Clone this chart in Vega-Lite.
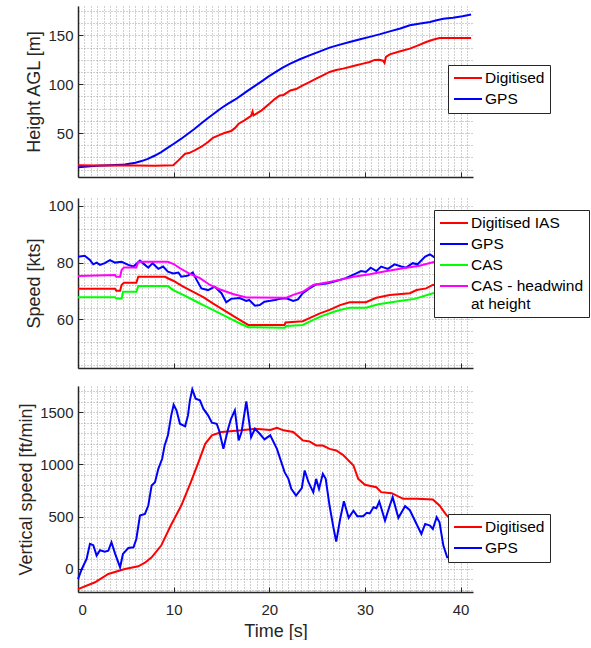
{
  "$schema": "https://vega.github.io/schema/vega-lite/v6.json",
  "background": "white",
  "padding": {"left": 17, "top": 6, "right": 0, "bottom": 0},
  "config": {
    "font": "Liberation Sans",
    "view": {"stroke": null},
    "axis": {
      "domainColor": "#262626", "domainWidth": 1.5,
      "labelColor": "#262626", "labelFontSize": 15, "labelFont": "Liberation Sans", "format": "d",
      "titleColor": "#262626", "titleFontSize": 18, "titleFontWeight": "normal", "titleFont": "Liberation Sans",
      "gridColor": "#a0a0a0", "gridDash": [1, 2], "gridWidth": 1,
      "tickColor": "#262626", "tickSize": -5, "tickWidth": 1, "labelPadding": 10
    },
    "legend": {
      "labelFont": "Liberation Sans", "labelFontSize": 15.5, "labelColor": "#000000", "labelBaseline": "middle",
      "strokeColor": "#262626", "fillColor": "white", "padding": 5,
      "symbolType": "M-1,0H3", "symbolSize": 196, "symbolStrokeWidth": 2,
      "labelOffset": 16, "rowPadding": 4, "orient": "none", "title": null
    },
    "line": {"strokeWidth": 2, "clip": true}
  },
  "datasets": {
    "h": [
      {"t": 0, "v": 15, "s": "GPS"}, {"t": 2, "v": 16.5, "s": "GPS"}, {"t": 4, "v": 17.3, "s": "GPS"}, {"t": 4.9, "v": 17.8, "s": "GPS"}, {"t": 6, "v": 19.5, "s": "GPS"}, {"t": 6.65, "v": 21.3, "s": "GPS"}, {"t": 7.3, "v": 23.5, "s": "GPS"}, {"t": 8.05, "v": 27, "s": "GPS"}, {"t": 8.7, "v": 30.5, "s": "GPS"}, {"t": 9.4, "v": 35, "s": "GPS"}, {"t": 10.1, "v": 39.5, "s": "GPS"}, {"t": 10.8, "v": 44.2, "s": "GPS"}, {"t": 11.5, "v": 49.3, "s": "GPS"}, {"t": 12.2, "v": 54.4, "s": "GPS"}, {"t": 12.9, "v": 60, "s": "GPS"}, {"t": 13.6, "v": 65.4, "s": "GPS"}, {"t": 14.3, "v": 70.5, "s": "GPS"}, {"t": 15.0, "v": 75.6, "s": "GPS"}, {"t": 15.7, "v": 80, "s": "GPS"}, {"t": 16.4, "v": 84.1, "s": "GPS"}, {"t": 17.1, "v": 88.8, "s": "GPS"}, {"t": 17.8, "v": 93.6, "s": "GPS"}, {"t": 18.5, "v": 98.3, "s": "GPS"}, {"t": 19.2, "v": 102.9, "s": "GPS"}, {"t": 19.9, "v": 107.7, "s": "GPS"}, {"t": 20.6, "v": 112, "s": "GPS"}, {"t": 21.4, "v": 117, "s": "GPS"}, {"t": 22.2, "v": 121, "s": "GPS"}, {"t": 23.2, "v": 125.5, "s": "GPS"}, {"t": 24.2, "v": 129.5, "s": "GPS"}, {"t": 25.3, "v": 133.5, "s": "GPS"}, {"t": 26.3, "v": 137.4, "s": "GPS"}, {"t": 27.3, "v": 140.2, "s": "GPS"}, {"t": 28.4, "v": 143.2, "s": "GPS"}, {"t": 29.5, "v": 146, "s": "GPS"}, {"t": 30.5, "v": 148.4, "s": "GPS"}, {"t": 31.6, "v": 151.2, "s": "GPS"}, {"t": 32.6, "v": 154, "s": "GPS"}, {"t": 33.7, "v": 157, "s": "GPS"}, {"t": 34.7, "v": 160.2, "s": "GPS"}, {"t": 35.8, "v": 162, "s": "GPS"}, {"t": 36.8, "v": 163.7, "s": "GPS"}, {"t": 37.5, "v": 165.5, "s": "GPS"}, {"t": 38.2, "v": 167, "s": "GPS"}, {"t": 39.2, "v": 168, "s": "GPS"}, {"t": 40.2, "v": 169.5, "s": "GPS"}, {"t": 41.1, "v": 171.2, "s": "GPS"},
      {"t": 0, "v": 17, "s": "Digitised"}, {"t": 2, "v": 16.8, "s": "Digitised"}, {"t": 4, "v": 16.7, "s": "Digitised"}, {"t": 6, "v": 16.7, "s": "Digitised"}, {"t": 8, "v": 16.6, "s": "Digitised"}, {"t": 9.96, "v": 17, "s": "Digitised"}, {"t": 10.5, "v": 22, "s": "Digitised"}, {"t": 11.2, "v": 28.8, "s": "Digitised"}, {"t": 11.6, "v": 29.5, "s": "Digitised"}, {"t": 12.2, "v": 32.2, "s": "Digitised"}, {"t": 12.9, "v": 36, "s": "Digitised"}, {"t": 13.6, "v": 40.8, "s": "Digitised"}, {"t": 14.1, "v": 45, "s": "Digitised"}, {"t": 14.7, "v": 47.6, "s": "Digitised"}, {"t": 15.3, "v": 50, "s": "Digitised"}, {"t": 16.0, "v": 52, "s": "Digitised"}, {"t": 16.4, "v": 55, "s": "Digitised"}, {"t": 16.8, "v": 59.5, "s": "Digitised"}, {"t": 17.4, "v": 63, "s": "Digitised"}, {"t": 18.1, "v": 67.5, "s": "Digitised"}, {"t": 18.25, "v": 72, "s": "Digitised"}, {"t": 18.35, "v": 68, "s": "Digitised"}, {"t": 19.2, "v": 73.2, "s": "Digitised"}, {"t": 20.1, "v": 80.7, "s": "Digitised"}, {"t": 20.6, "v": 85, "s": "Digitised"}, {"t": 21.1, "v": 88.5, "s": "Digitised"}, {"t": 21.5, "v": 89, "s": "Digitised"}, {"t": 22.2, "v": 93.6, "s": "Digitised"}, {"t": 22.8, "v": 95, "s": "Digitised"}, {"t": 23.5, "v": 98.8, "s": "Digitised"}, {"t": 24.2, "v": 102, "s": "Digitised"}, {"t": 24.9, "v": 105.6, "s": "Digitised"}, {"t": 25.6, "v": 109, "s": "Digitised"}, {"t": 26.3, "v": 112.5, "s": "Digitised"}, {"t": 27.0, "v": 114.5, "s": "Digitised"}, {"t": 27.7, "v": 115.9, "s": "Digitised"}, {"t": 28.4, "v": 117.5, "s": "Digitised"}, {"t": 29.1, "v": 119.3, "s": "Digitised"}, {"t": 29.8, "v": 121, "s": "Digitised"}, {"t": 30.5, "v": 122.7, "s": "Digitised"}, {"t": 31.0, "v": 124.8, "s": "Digitised"}, {"t": 31.5, "v": 125, "s": "Digitised"}, {"t": 31.9, "v": 124, "s": "Digitised"}, {"t": 32.05, "v": 121.7, "s": "Digitised"}, {"t": 32.2, "v": 128, "s": "Digitised"}, {"t": 32.6, "v": 130.5, "s": "Digitised"}, {"t": 33.6, "v": 133.5, "s": "Digitised"}, {"t": 34.7, "v": 136.4, "s": "Digitised"}, {"t": 35.5, "v": 139.5, "s": "Digitised"}, {"t": 36.4, "v": 143.2, "s": "Digitised"}, {"t": 37.1, "v": 145.5, "s": "Digitised"}, {"t": 37.8, "v": 147.3, "s": "Digitised"}, {"t": 39, "v": 147.3, "s": "Digitised"}, {"t": 41.1, "v": 147.3, "s": "Digitised"}
    ],
    "sp": [
      {"t": 0, "v": 70.8, "s": "Digitised IAS"}, {"t": 3.87, "v": 70.8, "s": "Digitised IAS"}, {"t": 4.0, "v": 70.1, "s": "Digitised IAS"}, {"t": 4.4, "v": 70.1, "s": "Digitised IAS"}, {"t": 4.56, "v": 72.1, "s": "Digitised IAS"}, {"t": 4.8, "v": 72.9, "s": "Digitised IAS"}, {"t": 6.1, "v": 72.9, "s": "Digitised IAS"}, {"t": 6.3, "v": 75.0, "s": "Digitised IAS"}, {"t": 9.1, "v": 75.0, "s": "Digitised IAS"}, {"t": 9.5, "v": 74.3, "s": "Digitised IAS"}, {"t": 9.96, "v": 73.6, "s": "Digitised IAS"}, {"t": 11.0, "v": 71.5, "s": "Digitised IAS"}, {"t": 12.05, "v": 69.7, "s": "Digitised IAS"}, {"t": 13.1, "v": 67.8, "s": "Digitised IAS"}, {"t": 14.1, "v": 65.6, "s": "Digitised IAS"}, {"t": 15.5, "v": 62.7, "s": "Digitised IAS"}, {"t": 16.9, "v": 59.8, "s": "Digitised IAS"}, {"t": 17.8, "v": 58.0, "s": "Digitised IAS"}, {"t": 21.6, "v": 58.0, "s": "Digitised IAS"}, {"t": 21.7, "v": 58.9, "s": "Digitised IAS"}, {"t": 23.5, "v": 59.3, "s": "Digitised IAS"}, {"t": 24.2, "v": 60.4, "s": "Digitised IAS"}, {"t": 25.3, "v": 62.1, "s": "Digitised IAS"}, {"t": 26.3, "v": 63.3, "s": "Digitised IAS"}, {"t": 27.4, "v": 65.0, "s": "Digitised IAS"}, {"t": 28.4, "v": 66.0, "s": "Digitised IAS"}, {"t": 30.1, "v": 66.0, "s": "Digitised IAS"}, {"t": 31.2, "v": 67.6, "s": "Digitised IAS"}, {"t": 32.6, "v": 68.6, "s": "Digitised IAS"}, {"t": 34.7, "v": 69.2, "s": "Digitised IAS"}, {"t": 35.4, "v": 70.3, "s": "Digitised IAS"}, {"t": 36.4, "v": 70.9, "s": "Digitised IAS"}, {"t": 37.1, "v": 72.1, "s": "Digitised IAS"}, {"t": 38, "v": 72.5, "s": "Digitised IAS"}, {"t": 41.2, "v": 73.5, "s": "Digitised IAS"},
      {"t": 0, "v": 82.1, "s": "GPS"}, {"t": 0.7, "v": 82.4, "s": "GPS"}, {"t": 1.25, "v": 80.9, "s": "GPS"}, {"t": 1.6, "v": 79.4, "s": "GPS"}, {"t": 1.95, "v": 80.0, "s": "GPS"}, {"t": 2.3, "v": 79.2, "s": "GPS"}, {"t": 2.8, "v": 79.8, "s": "GPS"}, {"t": 3.34, "v": 80.9, "s": "GPS"}, {"t": 3.87, "v": 80.0, "s": "GPS"}, {"t": 4.56, "v": 80.3, "s": "GPS"}, {"t": 5.26, "v": 79.2, "s": "GPS"}, {"t": 5.8, "v": 78.6, "s": "GPS"}, {"t": 6.48, "v": 80.7, "s": "GPS"}, {"t": 7.0, "v": 79.2, "s": "GPS"}, {"t": 7.35, "v": 78.2, "s": "GPS"}, {"t": 7.8, "v": 79.8, "s": "GPS"}, {"t": 8.4, "v": 77.8, "s": "GPS"}, {"t": 8.9, "v": 78.6, "s": "GPS"}, {"t": 9.4, "v": 76.8, "s": "GPS"}, {"t": 9.96, "v": 76.2, "s": "GPS"}, {"t": 10.5, "v": 76.5, "s": "GPS"}, {"t": 10.8, "v": 75.0, "s": "GPS"}, {"t": 11.5, "v": 75.4, "s": "GPS"}, {"t": 12.0, "v": 76.5, "s": "GPS"}, {"t": 12.4, "v": 73.9, "s": "GPS"}, {"t": 12.9, "v": 70.9, "s": "GPS"}, {"t": 13.6, "v": 70.3, "s": "GPS"}, {"t": 14.3, "v": 71.5, "s": "GPS"}, {"t": 15.0, "v": 69.2, "s": "GPS"}, {"t": 15.5, "v": 66.0, "s": "GPS"}, {"t": 16.0, "v": 67.2, "s": "GPS"}, {"t": 16.9, "v": 67.5, "s": "GPS"}, {"t": 17.6, "v": 66.5, "s": "GPS"}, {"t": 17.9, "v": 66.8, "s": "GPS"}, {"t": 18.5, "v": 64.8, "s": "GPS"}, {"t": 19.0, "v": 65.0, "s": "GPS"}, {"t": 19.5, "v": 66.2, "s": "GPS"}, {"t": 20.1, "v": 66.5, "s": "GPS"}, {"t": 20.6, "v": 66.8, "s": "GPS"}, {"t": 21.1, "v": 67.2, "s": "GPS"}, {"t": 21.8, "v": 67.4, "s": "GPS"}, {"t": 22.5, "v": 66.5, "s": "GPS"}, {"t": 23.0, "v": 67.0, "s": "GPS"}, {"t": 23.5, "v": 69.2, "s": "GPS"}, {"t": 24.2, "v": 70.9, "s": "GPS"}, {"t": 24.9, "v": 72.3, "s": "GPS"}, {"t": 26.0, "v": 72.6, "s": "GPS"}, {"t": 27.0, "v": 73.5, "s": "GPS"}, {"t": 28.0, "v": 74.5, "s": "GPS"}, {"t": 29.1, "v": 76.2, "s": "GPS"}, {"t": 29.6, "v": 77.0, "s": "GPS"}, {"t": 30.1, "v": 76.7, "s": "GPS"}, {"t": 30.6, "v": 78.2, "s": "GPS"}, {"t": 31.2, "v": 77.0, "s": "GPS"}, {"t": 31.7, "v": 78.6, "s": "GPS"}, {"t": 32.4, "v": 77.8, "s": "GPS"}, {"t": 33.1, "v": 79.4, "s": "GPS"}, {"t": 33.8, "v": 78.6, "s": "GPS"}, {"t": 34.3, "v": 78.2, "s": "GPS"}, {"t": 35.0, "v": 79.8, "s": "GPS"}, {"t": 35.5, "v": 79.4, "s": "GPS"}, {"t": 36.3, "v": 82.1, "s": "GPS"}, {"t": 36.8, "v": 82.9, "s": "GPS"}, {"t": 37.3, "v": 81.8, "s": "GPS"}, {"t": 37.8, "v": 82.8, "s": "GPS"}, {"t": 38.5, "v": 82.3, "s": "GPS"}, {"t": 39.5, "v": 83, "s": "GPS"}, {"t": 40.5, "v": 83.5, "s": "GPS"}, {"t": 41.2, "v": 84, "s": "GPS"},
      {"t": 0, "v": 67.8, "s": "CAS"}, {"t": 3.87, "v": 67.8, "s": "CAS"}, {"t": 4.0, "v": 67.3, "s": "CAS"}, {"t": 4.56, "v": 67.3, "s": "CAS"}, {"t": 4.7, "v": 69.7, "s": "CAS"}, {"t": 6.1, "v": 69.7, "s": "CAS"}, {"t": 6.3, "v": 71.7, "s": "CAS"}, {"t": 9.4, "v": 71.7, "s": "CAS"}, {"t": 9.96, "v": 70.3, "s": "CAS"}, {"t": 11.0, "v": 68.6, "s": "CAS"}, {"t": 12.05, "v": 66.8, "s": "CAS"}, {"t": 13.1, "v": 65.0, "s": "CAS"}, {"t": 14.1, "v": 63.3, "s": "CAS"}, {"t": 15.5, "v": 60.9, "s": "CAS"}, {"t": 16.9, "v": 58.6, "s": "CAS"}, {"t": 17.8, "v": 57.2, "s": "CAS"}, {"t": 21.6, "v": 57.0, "s": "CAS"}, {"t": 21.8, "v": 57.6, "s": "CAS"}, {"t": 23.5, "v": 58.0, "s": "CAS"}, {"t": 24.6, "v": 59.8, "s": "CAS"}, {"t": 25.6, "v": 61.3, "s": "CAS"}, {"t": 27.0, "v": 62.9, "s": "CAS"}, {"t": 28.4, "v": 64.1, "s": "CAS"}, {"t": 30.1, "v": 64.1, "s": "CAS"}, {"t": 31.4, "v": 65.3, "s": "CAS"}, {"t": 33.8, "v": 66.5, "s": "CAS"}, {"t": 35.2, "v": 67.2, "s": "CAS"}, {"t": 37.1, "v": 69.2, "s": "CAS"}, {"t": 38, "v": 69.6, "s": "CAS"}, {"t": 41.2, "v": 70.5, "s": "CAS"},
      {"t": 0, "v": 75.3, "s": "CAS - headwind at height"}, {"t": 3.87, "v": 75.6, "s": "CAS - headwind at height"}, {"t": 4.0, "v": 75.0, "s": "CAS - headwind at height"}, {"t": 4.4, "v": 75.0, "s": "CAS - headwind at height"}, {"t": 4.56, "v": 77.4, "s": "CAS - headwind at height"}, {"t": 4.8, "v": 78.3, "s": "CAS - headwind at height"}, {"t": 6.1, "v": 78.3, "s": "CAS - headwind at height"}, {"t": 6.3, "v": 80.3, "s": "CAS - headwind at height"}, {"t": 9.4, "v": 80.3, "s": "CAS - headwind at height"}, {"t": 10.0, "v": 79.5, "s": "CAS - headwind at height"}, {"t": 10.66, "v": 78.0, "s": "CAS - headwind at height"}, {"t": 11.7, "v": 76.0, "s": "CAS - headwind at height"}, {"t": 12.75, "v": 74.5, "s": "CAS - headwind at height"}, {"t": 13.8, "v": 72.1, "s": "CAS - headwind at height"}, {"t": 14.8, "v": 70.6, "s": "CAS - headwind at height"}, {"t": 16.2, "v": 68.9, "s": "CAS - headwind at height"}, {"t": 17.6, "v": 67.7, "s": "CAS - headwind at height"}, {"t": 21.8, "v": 67.6, "s": "CAS - headwind at height"}, {"t": 22.5, "v": 68.6, "s": "CAS - headwind at height"}, {"t": 23.5, "v": 69.7, "s": "CAS - headwind at height"}, {"t": 24.6, "v": 72.1, "s": "CAS - headwind at height"}, {"t": 26.0, "v": 73.0, "s": "CAS - headwind at height"}, {"t": 27.4, "v": 73.9, "s": "CAS - headwind at height"}, {"t": 28.8, "v": 75.0, "s": "CAS - headwind at height"}, {"t": 30.5, "v": 75.9, "s": "CAS - headwind at height"}, {"t": 32.3, "v": 77.0, "s": "CAS - headwind at height"}, {"t": 34.0, "v": 78.0, "s": "CAS - headwind at height"}, {"t": 35.7, "v": 78.9, "s": "CAS - headwind at height"}, {"t": 37.3, "v": 80.3, "s": "CAS - headwind at height"}, {"t": 39, "v": 80.8, "s": "CAS - headwind at height"}, {"t": 41.2, "v": 81.5, "s": "CAS - headwind at height"}
    ],
    "vs": [
      {"t": 0, "v": -192, "s": "Digitised"}, {"t": 1.78, "v": -127, "s": "Digitised"}, {"t": 3.17, "v": -48, "s": "Digitised"}, {"t": 4.9, "v": 0, "s": "Digitised"}, {"t": 6.3, "v": 26, "s": "Digitised"}, {"t": 7.0, "v": 60, "s": "Digitised"}, {"t": 7.7, "v": 112, "s": "Digitised"}, {"t": 8.7, "v": 224, "s": "Digitised"}, {"t": 9.7, "v": 416, "s": "Digitised"}, {"t": 10.8, "v": 607, "s": "Digitised"}, {"t": 11.8, "v": 830, "s": "Digitised"}, {"t": 12.6, "v": 1022, "s": "Digitised"}, {"t": 13.3, "v": 1197, "s": "Digitised"}, {"t": 14.0, "v": 1278, "s": "Digitised"}, {"t": 15.0, "v": 1310, "s": "Digitised"}, {"t": 17.1, "v": 1326, "s": "Digitised"}, {"t": 18.5, "v": 1341, "s": "Digitised"}, {"t": 20.1, "v": 1330, "s": "Digitised"}, {"t": 20.8, "v": 1351, "s": "Digitised"}, {"t": 21.5, "v": 1326, "s": "Digitised"}, {"t": 22.5, "v": 1310, "s": "Digitised"}, {"t": 23.5, "v": 1230, "s": "Digitised"}, {"t": 24.2, "v": 1220, "s": "Digitised"}, {"t": 24.9, "v": 1182, "s": "Digitised"}, {"t": 25.6, "v": 1180, "s": "Digitised"}, {"t": 26.3, "v": 1149, "s": "Digitised"}, {"t": 27.0, "v": 1133, "s": "Digitised"}, {"t": 27.7, "v": 1092, "s": "Digitised"}, {"t": 28.8, "v": 990, "s": "Digitised"}, {"t": 29.3, "v": 862, "s": "Digitised"}, {"t": 30.0, "v": 805, "s": "Digitised"}, {"t": 31.2, "v": 782, "s": "Digitised"}, {"t": 31.7, "v": 735, "s": "Digitised"}, {"t": 32.8, "v": 725, "s": "Digitised"}, {"t": 34.0, "v": 671, "s": "Digitised"}, {"t": 35.4, "v": 672, "s": "Digitised"}, {"t": 37.1, "v": 665, "s": "Digitised"}, {"t": 37.8, "v": 607, "s": "Digitised"}, {"t": 38.5, "v": 517, "s": "Digitised"}, {"t": 39.5, "v": 430, "s": "Digitised"}, {"t": 41.2, "v": 380, "s": "Digitised"},
      {"t": 0, "v": -96, "s": "GPS"}, {"t": 0.4, "v": 0, "s": "GPS"}, {"t": 0.9, "v": 96, "s": "GPS"}, {"t": 1.25, "v": 240, "s": "GPS"}, {"t": 1.6, "v": 228, "s": "GPS"}, {"t": 1.95, "v": 128, "s": "GPS"}, {"t": 2.3, "v": 179, "s": "GPS"}, {"t": 2.8, "v": 166, "s": "GPS"}, {"t": 3.17, "v": 175, "s": "GPS"}, {"t": 3.5, "v": 256, "s": "GPS"}, {"t": 3.87, "v": 150, "s": "GPS"}, {"t": 4.4, "v": 16, "s": "GPS"}, {"t": 4.7, "v": 144, "s": "GPS"}, {"t": 5.26, "v": 201, "s": "GPS"}, {"t": 5.8, "v": 207, "s": "GPS"}, {"t": 6.1, "v": 287, "s": "GPS"}, {"t": 6.48, "v": 511, "s": "GPS"}, {"t": 7.0, "v": 527, "s": "GPS"}, {"t": 7.35, "v": 607, "s": "GPS"}, {"t": 7.7, "v": 799, "s": "GPS"}, {"t": 8.05, "v": 830, "s": "GPS"}, {"t": 8.4, "v": 958, "s": "GPS"}, {"t": 8.8, "v": 1054, "s": "GPS"}, {"t": 9.06, "v": 1182, "s": "GPS"}, {"t": 9.4, "v": 1278, "s": "GPS"}, {"t": 9.75, "v": 1469, "s": "GPS"}, {"t": 10.0, "v": 1571, "s": "GPS"}, {"t": 10.3, "v": 1517, "s": "GPS"}, {"t": 10.66, "v": 1389, "s": "GPS"}, {"t": 11.2, "v": 1364, "s": "GPS"}, {"t": 11.5, "v": 1469, "s": "GPS"}, {"t": 11.7, "v": 1613, "s": "GPS"}, {"t": 11.95, "v": 1718, "s": "GPS"}, {"t": 12.3, "v": 1629, "s": "GPS"}, {"t": 12.75, "v": 1613, "s": "GPS"}, {"t": 13.1, "v": 1533, "s": "GPS"}, {"t": 13.6, "v": 1469, "s": "GPS"}, {"t": 14.0, "v": 1399, "s": "GPS"}, {"t": 14.5, "v": 1389, "s": "GPS"}, {"t": 14.75, "v": 1326, "s": "GPS"}, {"t": 15.2, "v": 1149, "s": "GPS"}, {"t": 15.7, "v": 1341, "s": "GPS"}, {"t": 16.0, "v": 1437, "s": "GPS"}, {"t": 16.4, "v": 1517, "s": "GPS"}, {"t": 16.8, "v": 1230, "s": "GPS"}, {"t": 17.1, "v": 1310, "s": "GPS"}, {"t": 17.6, "v": 1603, "s": "GPS"}, {"t": 17.9, "v": 1405, "s": "GPS"}, {"t": 18.1, "v": 1261, "s": "GPS"}, {"t": 18.5, "v": 1341, "s": "GPS"}, {"t": 19.0, "v": 1293, "s": "GPS"}, {"t": 19.5, "v": 1239, "s": "GPS"}, {"t": 20.1, "v": 1278, "s": "GPS"}, {"t": 20.8, "v": 1149, "s": "GPS"}, {"t": 21.6, "v": 926, "s": "GPS"}, {"t": 22.0, "v": 862, "s": "GPS"}, {"t": 22.3, "v": 766, "s": "GPS"}, {"t": 22.8, "v": 702, "s": "GPS"}, {"t": 23.4, "v": 773, "s": "GPS"}, {"t": 23.7, "v": 942, "s": "GPS"}, {"t": 24.1, "v": 830, "s": "GPS"}, {"t": 24.6, "v": 734, "s": "GPS"}, {"t": 24.9, "v": 862, "s": "GPS"}, {"t": 25.2, "v": 766, "s": "GPS"}, {"t": 25.6, "v": 910, "s": "GPS"}, {"t": 25.9, "v": 862, "s": "GPS"}, {"t": 26.3, "v": 607, "s": "GPS"}, {"t": 26.7, "v": 399, "s": "GPS"}, {"t": 27.0, "v": 262, "s": "GPS"}, {"t": 27.4, "v": 473, "s": "GPS"}, {"t": 27.8, "v": 648, "s": "GPS"}, {"t": 28.3, "v": 489, "s": "GPS"}, {"t": 28.8, "v": 557, "s": "GPS"}, {"t": 29.2, "v": 505, "s": "GPS"}, {"t": 29.8, "v": 505, "s": "GPS"}, {"t": 30.2, "v": 537, "s": "GPS"}, {"t": 30.5, "v": 531, "s": "GPS"}, {"t": 30.9, "v": 591, "s": "GPS"}, {"t": 31.2, "v": 581, "s": "GPS"}, {"t": 31.5, "v": 645, "s": "GPS"}, {"t": 32.1, "v": 463, "s": "GPS"}, {"t": 32.6, "v": 607, "s": "GPS"}, {"t": 32.9, "v": 687, "s": "GPS"}, {"t": 33.5, "v": 489, "s": "GPS"}, {"t": 34.2, "v": 601, "s": "GPS"}, {"t": 34.7, "v": 562, "s": "GPS"}, {"t": 35.9, "v": 335, "s": "GPS"}, {"t": 36.3, "v": 431, "s": "GPS"}, {"t": 36.8, "v": 415, "s": "GPS"}, {"t": 37.1, "v": 383, "s": "GPS"}, {"t": 37.5, "v": 495, "s": "GPS"}, {"t": 37.8, "v": 447, "s": "GPS"}, {"t": 38.2, "v": 224, "s": "GPS"}, {"t": 38.6, "v": 112, "s": "GPS"}, {"t": 39.5, "v": 110, "s": "GPS"}, {"t": 41.2, "v": 120, "s": "GPS"}
    ]
  },
  "resolve": {"scale": {"color": "independent", "y": "independent"}, "legend": {"color": "independent"}},
  "spacing": 16,
  "vconcat": [
    {
      "resolve": {"scale": {"color": "independent", "y": "independent"}, "legend": {"color": "independent"}},
      "spacing": 20,
      "vconcat": [
        {
          "width": 395, "height": 171,
          "data": {"name": "h"},
          "mark": {"type": "line"},
          "encoding": {
            "x": {"field": "t", "type": "quantitative", "scale": {"domain": [0, 41.3], "nice": false, "zero": false},
              "axis": {"title": null, "labels": false, "values": [0,0.667,1.333,2,2.667,3.333,4,4.667,5.333,6,6.667,7.333,8,8.667,9.333,10,10.667,11.333,12,12.667,13.333,14,14.667,15.333,16,16.667,17.333,18,18.667,19.333,20,20.667,21.333,22,22.667,23.333,24,24.667,25.333,26,26.667,27.333,28,28.667,29.333,30,30.667,31.333,32,32.667,33.333,34,34.667,35.333,36,36.667,37.333,38,38.667,39.333,40,40.667],
                "tickOpacity": {"condition": {"test": "datum.value % 10 === 0", "value": 1}, "value": 0}}},
            "y": {"field": "v", "type": "quantitative", "scale": {"domain": [5, 180], "nice": false, "zero": false},
              "axis": {"title": "Height AGL [m]", "values": [12.5,25,37.5,50,62.5,75,87.5,100,112.5,125,137.5,150,162.5,175],
                "labelExpr": "datum.value % 50 === 0 ? datum.label : ''",
                "tickOpacity": {"condition": {"test": "datum.value % 50 === 0", "value": 1}, "value": 0}}},
            "color": {"field": "s", "type": "nominal", "scale": {"domain": ["Digitised", "GPS"], "range": ["#ff0000", "#0000ff"]},
              "legend": {"legendX": 370, "legendY": 59}}
          }
        },
        {
          "width": 395, "height": 170,
          "data": {"name": "sp"},
          "mark": {"type": "line"},
          "encoding": {
            "x": {"field": "t", "type": "quantitative", "scale": {"domain": [0, 41.3], "nice": false, "zero": false},
              "axis": {"title": null, "labels": false, "values": [0,0.667,1.333,2,2.667,3.333,4,4.667,5.333,6,6.667,7.333,8,8.667,9.333,10,10.667,11.333,12,12.667,13.333,14,14.667,15.333,16,16.667,17.333,18,18.667,19.333,20,20.667,21.333,22,22.667,23.333,24,24.667,25.333,26,26.667,27.333,28,28.667,29.333,30,30.667,31.333,32,32.667,33.333,34,34.667,35.333,36,36.667,37.333,38,38.667,39.333,40,40.667],
                "tickOpacity": {"condition": {"test": "datum.value % 10 === 0", "value": 1}, "value": 0}}},
            "y": {"field": "v", "type": "quantitative", "scale": {"domain": [42.8, 102.8], "nice": false, "zero": false},
              "axis": {"title": "Speed [kts]", "values": [44,48,52,56,60,64,68,72,76,80,84,88,92,96,100],
                "labelExpr": "datum.value % 20 === 0 ? datum.label : ''",
                "tickOpacity": {"condition": {"test": "datum.value % 20 === 0", "value": 1}, "value": 0}}},
            "color": {"field": "s", "type": "nominal",
              "scale": {"domain": ["Digitised IAS", "GPS", "CAS", "CAS - headwind at height"], "range": ["#ff0000", "#0000ff", "#00ff00", "#ff00ff"]},
              "legend": {"legendX": 356, "legendY": 12, "labelExpr": "datum.label == 'CAS - headwind at height' ? ['CAS - headwind', ' at height'] : datum.label"}}
          }
        }
      ]
    },
    {
      "width": 395, "height": 206,
      "data": {"name": "vs"},
      "mark": {"type": "line"},
      "encoding": {
        "x": {"field": "t", "type": "quantitative", "scale": {"domain": [0, 41.3], "nice": false, "zero": false},
          "axis": {"title": "Time [s]", "titlePadding": 5, "labelPadding": 15, "values": [0,0.667,1.333,2,2.667,3.333,4,4.667,5.333,6,6.667,7.333,8,8.667,9.333,10,10.667,11.333,12,12.667,13.333,14,14.667,15.333,16,16.667,17.333,18,18.667,19.333,20,20.667,21.333,22,22.667,23.333,24,24.667,25.333,26,26.667,27.333,28,28.667,29.333,30,30.667,31.333,32,32.667,33.333,34,34.667,35.333,36,36.667,37.333,38,38.667,39.333,40,40.667],
            "labelExpr": "datum.value % 10 === 0 ? datum.label : ''",
            "tickOpacity": {"condition": {"test": "datum.value % 10 === 0", "value": 1}, "value": 0}}},
        "y": {"field": "v", "type": "quantitative", "scale": {"domain": [-220, 1750], "nice": false, "zero": false},
          "axis": {"title": "Vertical speed [ft/min]", "values": [-200,-100,0,100,200,300,400,500,600,700,800,900,1000,1100,1200,1300,1400,1500,1600,1700],
            "labelExpr": "datum.value % 500 === 0 ? datum.label : ''",
            "tickOpacity": {"condition": {"test": "datum.value % 500 === 0", "value": 1}, "value": 0}}},
        "color": {"field": "s", "type": "nominal", "scale": {"domain": ["Digitised", "GPS"], "range": ["#ff0000", "#0000ff"]},
          "legend": {"legendX": 370, "legendY": 128}}
      }
    }
  ]
}
